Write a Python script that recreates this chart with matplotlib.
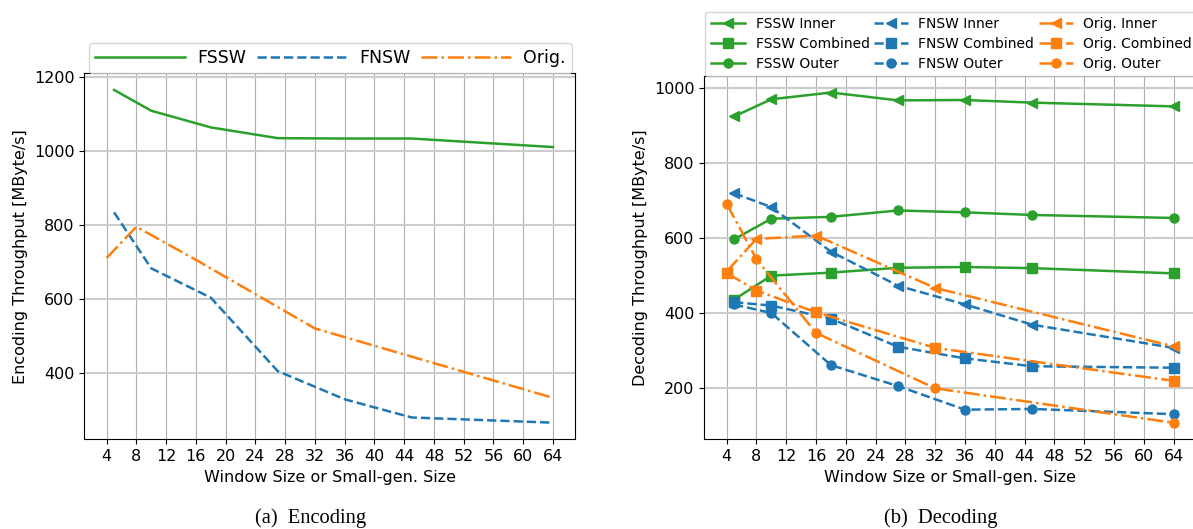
import matplotlib
matplotlib.use("Agg")
import matplotlib.pyplot as plt

# window sizes
x_new = [5, 10, 18, 27, 36, 45, 64]
x_orig = [4, 8, 16, 32, 64]
xticks = list(range(4, 65, 4))

# (a) encoding throughput [MByte/s]
enc_fssw = [1164, 1108, 1063, 1034, 1033, 1033, 1010]
enc_fnsw = [834, 683, 604, 406, 330, 281, 267]
enc_orig = [711, 795, 706, 521, 334]

# (b) decoding throughput [MByte/s]
dec_fssw_inner = [924, 970, 988, 967, 968, 961, 951]
dec_fssw_comb = [435, 499, 507, 520, 522, 519, 505]
dec_fssw_outer = [596, 651, 656, 673, 668, 661, 653]
dec_fnsw_inner = [719, 682, 563, 472, 422, 368, 306]
dec_fnsw_comb = [428, 419, 384, 309, 278, 257, 253]
dec_fnsw_outer = [422, 399, 260, 204, 141, 143, 129]
dec_orig_inner = [510, 597, 606, 466, 310]
dec_orig_comb = [506, 459, 401, 306, 218]
dec_orig_outer = [691, 543, 346, 198, 106]

green, blue, orange = '#2ca02c', '#1f77b4', '#ff7f0e'
W, H = 1193, 529

fig = plt.figure(figsize=(W / 100, H / 100), dpi=100)
ax1 = fig.add_axes([84.3 / W, 1 - 439.3 / H, 491 / W, 366 / H])
ax2 = fig.add_axes([704.3 / W, 1 - 439.3 / H, 491.7 / W, 363.3 / H])

lw = 1.8
ax1.plot(x_new, enc_fssw, color=green, lw=lw, ls='-', label='FSSW')
ax1.plot(x_new, enc_fnsw, color=blue, lw=lw, ls='--', label='FNSW')
ax1.plot(x_orig, enc_orig, color=orange, lw=lw, ls='-.', label='Orig.')

ms = 6.5
ax2.plot(x_new, dec_fssw_inner, color=green, lw=lw, ls='-', marker='<', ms=ms, label='FSSW Inner')
ax2.plot(x_new, dec_fssw_comb, color=green, lw=lw, ls='-', marker='s', ms=ms, label='FSSW Combined')
ax2.plot(x_new, dec_fssw_outer, color=green, lw=lw, ls='-', marker='o', ms=ms, label='FSSW Outer')
ax2.plot(x_new, dec_fnsw_inner, color=blue, lw=lw, ls='--', marker='<', ms=ms, label='FNSW Inner')
ax2.plot(x_new, dec_fnsw_comb, color=blue, lw=lw, ls='--', marker='s', ms=ms, label='FNSW Combined')
ax2.plot(x_new, dec_fnsw_outer, color=blue, lw=lw, ls='--', marker='o', ms=ms, label='FNSW Outer')
ax2.plot(x_orig, dec_orig_inner, color=orange, lw=lw, ls='-.', marker='<', ms=ms, label='Orig. Inner')
ax2.plot(x_orig, dec_orig_comb, color=orange, lw=lw, ls='-.', marker='s', ms=ms, label='Orig. Combined')
ax2.plot(x_orig, dec_orig_outer, color=orange, lw=lw, ls='-.', marker='o', ms=ms, label='Orig. Outer')

for ax, ylab in [(ax1, 'Encoding Throughput [MByte/s]'), (ax2, 'Decoding Throughput [MByte/s]')]:
    ax.set_xticks(xticks)
    ax.tick_params(labelsize=11.5)
    ax.grid(axis='x', color='#b0b0b0', lw=0.8)
    ax.grid(axis='y', color='#cccccc', lw=1.5)
    ax.set_axisbelow(True)
    ax.set_xlabel('Window Size or Small-gen. Size', fontsize=11.5)
    ax.set_ylabel(ylab, fontsize=11.5)

ax1.set_yticks([400, 600, 800, 1000, 1200])
ax2.set_yticks([200, 400, 600, 800, 1000])

fig.legend(*ax1.get_legend_handles_labels(), loc='lower left',
           bbox_to_anchor=(89 / W, 1 - 73.3 / H), borderaxespad=0, ncol=3,
           fontsize=12.5, handlelength=5.2, handletextpad=0.7, columnspacing=0.6,
           borderpad=0.35)
fig.legend(*ax2.get_legend_handles_labels(), loc='upper left',
           bbox_to_anchor=(705.3 / W, 1 - 11.7 / H), borderaxespad=0, ncol=3,
           fontsize=10, handlelength=2.45, handletextpad=0.77, columnspacing=0.3,
           labelspacing=0.42)

fig.text(311 / W, 1 - 523 / H, '(a)  Encoding', ha='center', va='baseline',
         family='Liberation Serif', fontsize=14.8)
fig.text(941 / W, 1 - 523 / H, '(b)  Decoding', ha='center', va='baseline',
         family='Liberation Serif', fontsize=14.8)

fig.savefig('out.png', dpi=100)
